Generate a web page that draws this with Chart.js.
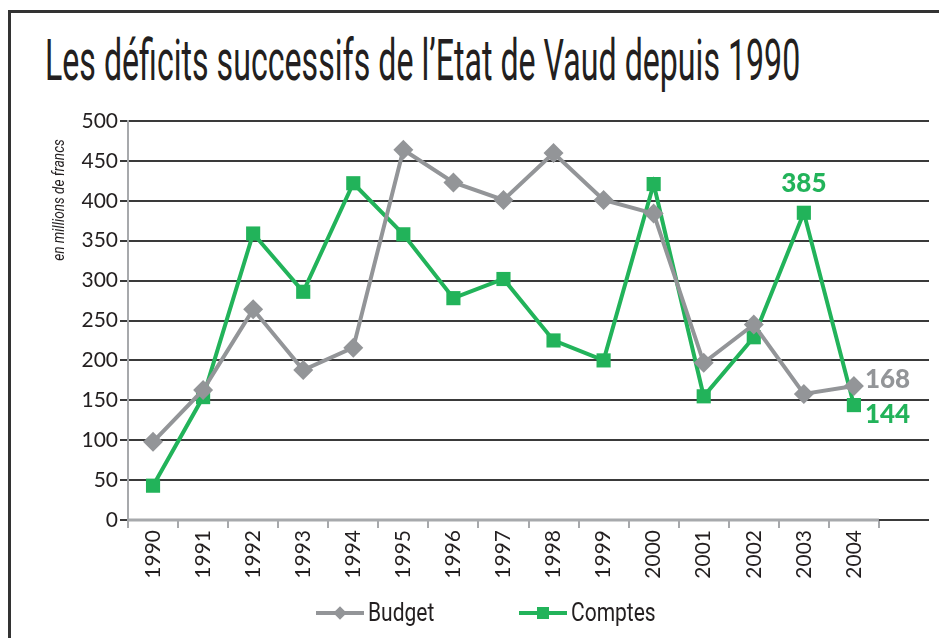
<!DOCTYPE html>
<html lang="fr">
<head>
<meta charset="utf-8">
<title>Les déficits successifs de l'Etat de Vaud depuis 1990</title>
<script src="https://cdn.jsdelivr.net/npm/chart.js@4.4.1/dist/chart.umd.min.js"></script>
<style>
    html, body { margin: 0; padding: 0; background: #fff; }
    #wrap { position: relative; width: 939px; height: 638px; overflow: hidden; }
    #frame { position: absolute; left: 8px; top: 10px; width: 1000px; height: 700px;
             border-left: 3px solid #333; border-top: 3px solid #333; }
    #title { position: absolute; left: 45px; top: 27px; white-space: nowrap; color: #231f20;
             font-family: "Liberation Sans Narrow", "Roboto", sans-serif; font-size: 57px;
             transform-origin: 0 0; }
    #chart { position: absolute; left: 0; top: 0; }
    #legend { position: absolute; left: 316px; top: 598px; display: flex; gap: 85px;
              font-family: "Liberation Sans Narrow", "Roboto", sans-serif; font-size: 25px; color: #231f20; }
    .item { display: flex; align-items: center; }
    .item span { display: inline-block; transform-origin: 0 50%; white-space: nowrap; }
    .icon { position: relative; width: 48px; height: 16px; margin-right: 4px; }
    .icon .ln { position: absolute; left: 0; right: 0; top: 6px; height: 4px; }
    .icon .mk { position: absolute; left: 18px; top: 2px; width: 12px; height: 12px; }
</style>
</head>
<body>
<div id="wrap">
    <div id="frame"></div>
    <div id="title">Les déficits successifs de l’Etat de Vaud depuis 1990</div>
    <canvas id="chart" width="939" height="638"></canvas>
    <div id="legend"></div>
</div>
<script>
// Data (en millions de francs)
const years = ['1990', '1991', '1992', '1993', '1994', '1995', '1996', '1997',
               '1998', '1999', '2000', '2001', '2002', '2003', '2004', ''];
const budget = [98, 163, 264, 188, 216, 464, 423, 401, 460, 401, 384, 197, 245, 158, 168];
const comptes = [43, 154, 359, 286, 422, 358, 278, 302, 225, 200, 421, 155, 229, 385, 144];
const seriesNames = ['Budget', 'Comptes'];
const yMin = 0, yMax = 500, yStep = 50;
const yTitle = 'en millions de francs';

const GRAY = '#939598';
const GREEN = '#22b35a';
const GRID = '#3a3a3a';
const AXIS = '#a7a9ac';
const TEXT = '#231f20';

// Squeeze title to the condensed width of the original
const title = document.getElementById('title');
title.style.transform = 'scaleX(' + (755 / title.offsetWidth) + ')';

// Value labels drawn next to selected points
const valueLabels = [
    { ds: 1, i: 13, align: 'center', dx: 0, dy: -29 },
    { ds: 0, i: 14, align: 'left', dx: 11, dy: -6 },
    { ds: 1, i: 14, align: 'left', dx: 11, dy: 10 }
];

const extras = {
    id: 'extras',
    beforeDatasetsDraw(chart) {
        // gray category axis, only under the year slots
        const x = chart.scales.x, ctx = chart.ctx;
        const step = x.getPixelForValue(1) - x.getPixelForValue(0);
        const end = x.getPixelForValue(budget.length - 1) + step / 2;
        ctx.save();
        ctx.strokeStyle = AXIS;
        ctx.lineWidth = 3;
        ctx.beginPath();
        ctx.moveTo(chart.chartArea.left, chart.chartArea.bottom);
        ctx.lineTo(end, chart.chartArea.bottom);
        ctx.stroke();
        ctx.restore();
    },
    afterDatasetsDraw(chart) {
        const ctx = chart.ctx;
        ctx.save();
        ctx.font = '900 26px Lato, "DejaVu Sans", sans-serif';
        ctx.textBaseline = 'middle';
        valueLabels.forEach(l => {
            const pt = chart.getDatasetMeta(l.ds).data[l.i];
            ctx.fillStyle = chart.data.datasets[l.ds].borderColor;
            ctx.textAlign = l.align;
            ctx.fillText(String(chart.data.datasets[l.ds].data[l.i]), pt.x + l.dx, pt.y + l.dy);
        });
        // y axis title
        ctx.translate(60, 200);
        ctx.rotate(-Math.PI / 2);
        ctx.scale(0.8, 1);
        ctx.font = 'italic 17px "Liberation Sans Narrow", Roboto, sans-serif';
        ctx.fillStyle = TEXT;
        ctx.textAlign = 'center';
        ctx.fillText(yTitle, 0, 0);
        ctx.restore();
    }
};

const chart = new Chart(document.getElementById('chart').getContext('2d'), {
    type: 'line',
    data: {
        labels: years,
        datasets: [{
            label: seriesNames[0],
            data: budget,
            borderColor: GRAY,
            backgroundColor: GRAY,
            borderWidth: 4,
            pointStyle: 'rectRot',
            pointRadius: 10,
            pointHoverRadius: 10,
            pointBorderWidth: 0,
            tension: 0
        }, {
            label: seriesNames[1],
            data: comptes,
            borderColor: GREEN,
            backgroundColor: GREEN,
            borderWidth: 4,
            pointStyle: 'rect',
            pointRadius: 10,
            pointHoverRadius: 10,
            pointBorderWidth: 0,
            tension: 0
        }]
    },
    options: {
        responsive: false,
        animation: false,
        layout: { padding: { left: 0, top: 121, right: 6, bottom: 48 } },
        plugins: {
            legend: { display: false },
            tooltip: { enabled: false }
        },
        scales: {
            x: {
                offset: true,
                afterFit: scale => { scale.height = 70; },
                border: { display: false },
                grid: {
                    offset: true,
                    drawOnChartArea: false,
                    tickLength: 8,
                    lineWidth: 2,
                    color: c => c.type === 'tick' ? AXIS : 'rgba(0,0,0,0)'
                },
                ticks: {
                    autoSkip: false,
                    minRotation: 90,
                    maxRotation: 90,
                    padding: 2,
                    color: TEXT,
                    font: { family: 'Lato, "DejaVu Sans", sans-serif', size: 21 }
                }
            },
            y: {
                min: yMin,
                max: yMax,
                afterFit: scale => { scale.width = 128; },
                border: { color: AXIS, width: 2 },
                grid: { color: GRID, lineWidth: 2, tickLength: 8, tickColor: GRID },
                ticks: {
                    stepSize: yStep,
                    padding: 2,
                    color: TEXT,
                    font: { family: 'Lato, "DejaVu Sans", sans-serif', size: 21 }
                }
            }
        }
    },
    plugins: [extras]
});

// Legend: line with marker, then the series name (squeezed like the title)
const legend = document.getElementById('legend');
const legendScale = 0.84;
chart.data.datasets.forEach(ds => {
    const item = document.createElement('div');
    item.className = 'item';
    const icon = document.createElement('div');
    icon.className = 'icon';
    const ln = document.createElement('div');
    ln.className = 'ln';
    ln.style.background = ds.borderColor;
    const mk = document.createElement('div');
    mk.className = 'mk';
    mk.style.background = ds.borderColor;
    if (ds.pointStyle === 'rectRot') mk.style.transform = 'rotate(45deg) scale(0.8)';
    icon.appendChild(ln);
    icon.appendChild(mk);
    const txt = document.createElement('span');
    txt.textContent = ds.label;
    item.appendChild(icon);
    item.appendChild(txt);
    legend.appendChild(item);
    const w = txt.offsetWidth;
    txt.style.transform = 'scaleX(' + legendScale + ')';
    txt.style.marginRight = (-(1 - legendScale) * w) + 'px';
});
</script>
</body>
</html>
